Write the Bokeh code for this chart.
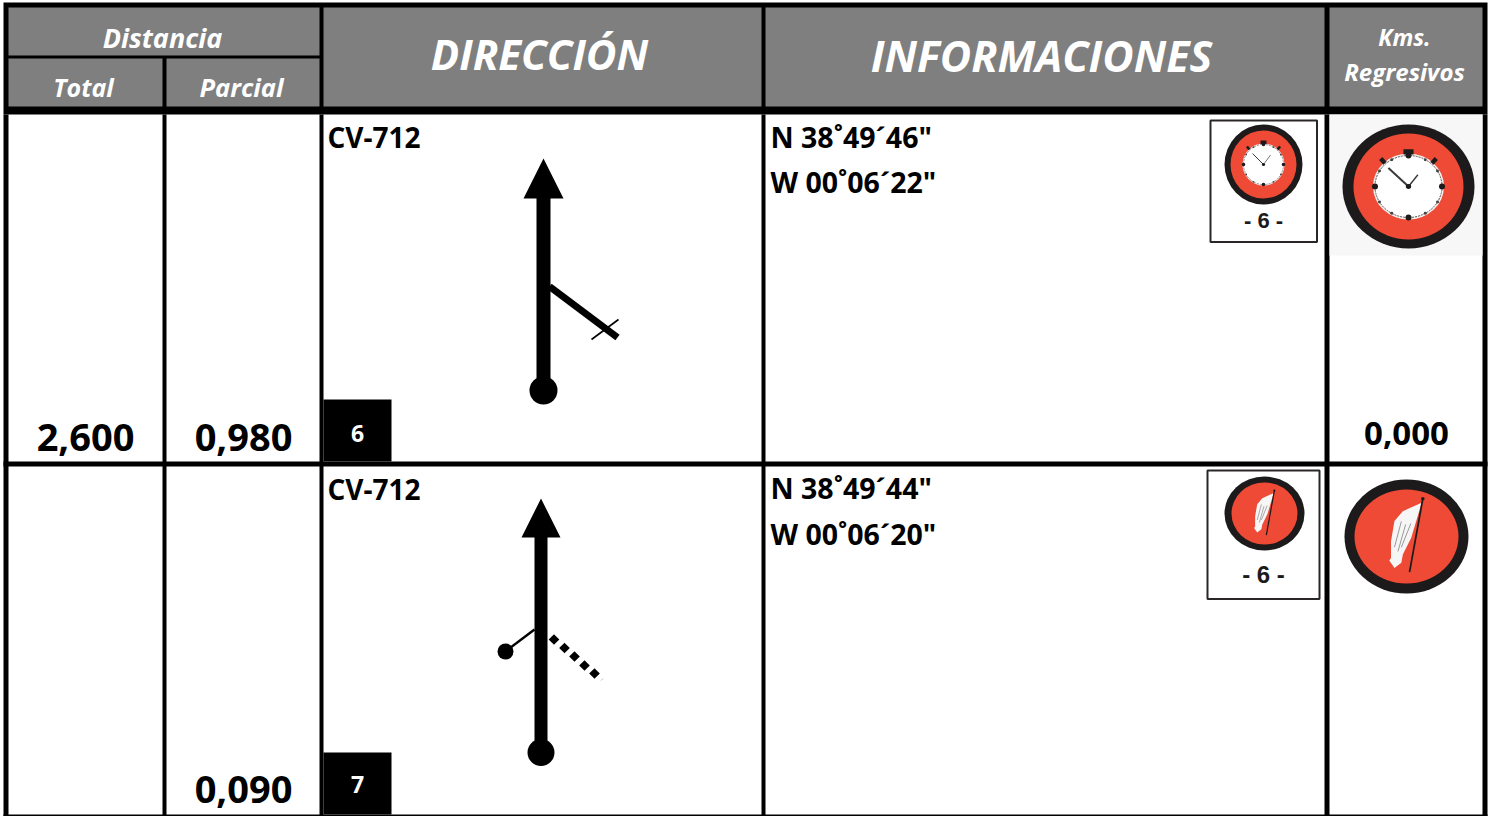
from bokeh.plotting import figure
from bokeh.embed import file_html
from bokeh.resources import INLINE
from bokeh.core.properties import value
import numpy as np

# ---- chart content ----
HEAD_GROUP = "Distancia"
HEAD_TOTAL = "Total"
HEAD_PARTIAL = "Parcial"
HEAD_DIRECTION = "DIRECCIÓN"
HEAD_INFO = "INFORMACIONES"
HEAD_KMS = ["Kms.", "Regresivos"]
TOTALS = ["2,600", ""]
PARTIALS = ["0,980", "0,090"]
ROADS = ["CV-712", "CV-712"]
STEPS = ["6", "7"]
LATITUDES = ['N 38˚49´46"', 'N 38˚49´44"']
LONGITUDES = ['W 00˚06´22"', 'W 00˚06´20"']
REGRESSIVE = ["0,000", ""]
ICON_LABEL = "- 6 -"

FONT = "Open Sans"
BLACK = "#000000"
GREY = "#7f7f7f"
RED = "#ee4a36"
RING = "#1c1a1a"
K = 0.33

p = figure(width=1494, height=816, x_range=(1, 1495), y_range=(817, 1),
           output_backend="svg", toolbar_location=None, min_border=0,
           outline_line_color=None, background_fill_color="white",
           border_fill_color="white")
p.axis.visible = False
p.grid.visible = False


def box(x0, x1, y0, y1, color=BLACK, **kw):
    p.quad(left=[x0], right=[x1], top=[y0], bottom=[y1], fill_color=color, line_color=None, **kw)


def txt(x, y, s, size, color=BLACK, align="center", style="bold", font=FONT):
    p.text([x], [y - K * size], text=[s], text_font=value(font), text_font_size=f"{size}px",
           text_font_style=style, text_color=color, text_align=align,
           text_baseline="alphabetic")


def seg(xs, ys, width, color=BLACK, cap="butt"):
    p.line(xs, ys, line_width=width, line_color=color, line_cap=cap)


def oval(cx, cy, rx, ry, color):
    p.ellipse([cx], [cy], width=[2 * rx], height=[2 * ry], fill_color=color, line_color=None)


# ---- header fills ----
box(4, 1488, 3, 115)
box(9, 320, 8, 56, GREY)
box(9, 163, 59, 107, GREY)
box(167, 320, 59, 107, GREY)
box(324, 762, 8, 107, GREY)
box(766, 1325, 8, 107, GREY)
box(1330, 1483, 8, 107, GREY)

# ---- grid lines of the body ----
for a, b in [(4, 9), (163, 167), (320, 324), (762, 766), (1325, 1330), (1483, 1488)]:
    box(a, b, 115, 817)
box(4, 1488, 462, 467)
box(4, 1488, 815, 817)

# ---- header texts ----
txt(163, 47, HEAD_GROUP, 27, "white", style="bold italic")
txt(84, 96, HEAD_TOTAL, 25, "white", style="bold italic")
txt(242, 96, HEAD_PARTIAL, 25.5, "white", style="bold italic")
txt(540, 68, HEAD_DIRECTION, 42, "white", style="bold italic")
txt(1042, 70, HEAD_INFO, 43, "white", style="bold italic")
txt(1405, 45, HEAD_KMS[0], 23, "white", style="bold italic")
txt(1405, 80, HEAD_KMS[1], 24, "white", style="bold italic")

# ---- body texts ----
for i, base in enumerate([451, 803]):
    txt(86, base, TOTALS[i], 38)
    txt(244, base, PARTIALS[i], 38)
txt(1407, 445, REGRESSIVE[0], 33)

box(324, 392, 400, 462)
box(324, 392, 753, 815)
txt(358, 442, STEPS[0], 23, "white")
txt(358, 793, STEPS[1], 23, "white")

for i, (road_y, lat_y, lon_y) in enumerate([(147, 147, 192), (499, 498, 544)]):
    txt(328, road_y, ROADS[i], 28, align="left")
    txt(771, lat_y, LATITUDES[i], 28.5, align="left")
    txt(771, lon_y, LONGITUDES[i], 28.5, align="left")

# ---- direction diagram, first row ----
box(537, 551, 190, 391)
p.patch([544, 524, 564], [159, 199, 199], fill_color=BLACK, line_color=None)
oval(544, 391, 14, 14, BLACK)
seg([550, 618], [287, 338], 7)
seg([592, 619], [340, 320], 1.6)

# ---- direction diagram, second row ----
box(535, 548, 530, 753)
p.patch([541.5, 522, 561], [499, 538, 538], fill_color=BLACK, line_color=None)
oval(541.5, 753, 13.5, 13.5, BLACK)
seg([535, 506], [630, 652], 2.4)
oval(506, 652, 8, 8, BLACK)
p.scatter([554.5, 565, 575, 585, 595], [640, 648.5, 657, 666, 674], marker="square",
          angle=np.pi / 4, size=7.5, fill_color=BLACK, line_color=None)
seg([601, 604], [681, 679], 1, "#cfcfcf")


def clock(cx, cy, rx, ry, rr_x, rr_y, rw_x, rw_y, hl, hs, lw):
    oval(cx, cy, rx, ry, RING)
    oval(cx, cy, rr_x, rr_y, RED)
    oval(cx, cy, rw_x + lw, rw_y + lw, "#f4f0ee")
    p.ellipse([cx], [cy], width=[2 * rw_x], height=[2 * rw_y], fill_color="white",
              line_color="#55514f", line_width=max(0.6, lw / 2), line_dash="2 1")
    a = np.arange(12) * np.pi / 6
    big = np.arange(12) % 3 == 0
    p.scatter(cx + rw_x * np.sin(a[big]), cy - rw_y * np.cos(a[big]), marker="circle",
              size=rw_x * 0.18, fill_color=RING, line_color=None)
    p.scatter(cx + rw_x * np.sin(a[~big]), cy - rw_y * np.cos(a[~big]), marker="circle",
              size=rw_x * 0.09, fill_color="#444444", line_color=None)
    seg([cx, cx - hl * rw_x], [cy, cy - hl * rw_y], lw, "#3a3a3a")
    seg([cx, cx + hs * rw_x], [cy, cy - hs * 1.35 * rw_y], lw * 0.7, "#3a3a3a")
    oval(cx, cy, rw_x * 0.08, rw_y * 0.08, RING)
    # crown and pushers
    box(cx - rw_x * 0.15, cx + rw_x * 0.15, cy - rw_y * 1.2, cy - rw_y * 1.03, RING)
    seg([cx - rw_x * 0.83, cx - rw_x * 0.7], [cy - rw_y * 0.9, cy - rw_y * 0.75], rw_x * 0.13, RING)
    seg([cx + rw_x * 0.83, cx + rw_x * 0.7], [cy - rw_y * 0.9, cy - rw_y * 0.75], rw_x * 0.13, RING)


def flag(cx, cy, rx, ry, rr_x, rr_y, s):
    oval(cx, cy, rx, ry, RING)
    oval(cx, cy, rr_x, rr_y, RED)
    fx = np.array([0.34, -0.085, -0.28, -0.36, -0.36, -0.40, -0.28, -0.12, -0.085, 0.11, 0.34])
    fy = np.array([-0.78, -0.59, -0.36, 0.11, 0.50, 0.56, 0.73, 0.61, 0.42, 0.03, -0.74])
    p.patch(cx + fx * s, cy + fy * s, fill_color="#f6f6f6", line_color=None)
    w = max(0.7, s / 50)
    seg([cx - 0.28 * s, cx - 0.12 * s], [cy + 0.25 * s, cy - 0.35 * s], w, "#8a8a8a")
    seg([cx - 0.2 * s, cx - 0.02 * s], [cy + 0.35 * s, cy - 0.28 * s], w, "#8a8a8a")
    seg([cx - 0.12 * s, cx + 0.1 * s], [cy + 0.25 * s, cy - 0.3 * s], w, "#8a8a8a")
    seg([cx + 0.38 * s, cx + 0.07 * s], [cy - 0.88 * s, cy + 0.83 * s], max(1.2, s / 25), RING)
    oval(cx + 0.38 * s, cy - 0.88 * s, s * 0.04, s * 0.04, RING)


# ---- first row icons ----
p.quad(left=[1211], right=[1317.5], top=[121], bottom=[242.5], fill_color="white",
       line_color="#2a2626", line_width=2)
clock(1264, 165, 39, 40, 33, 34, 20, 20, 0.55, 0.35, 1)
txt(1264, 228, ICON_LABEL, 22, RING, font="Liberation Sans")

box(1330, 1483, 115, 256, "#f7f7f7")
clock(1409, 187, 66, 62, 55, 53, 33.5, 31, 0.6, 0.28, 2)

# ---- second row icons ----
p.quad(left=[1208], right=[1320], top=[471], bottom=[599.5], fill_color="white",
       line_color="#2a2626", line_width=2)
flag(1265, 514, 40, 37, 33, 31, 26)
txt(1264, 583, ICON_LABEL, 24, RING, font="Liberation Sans")

flag(1407, 537, 62, 57, 52, 47, 43)

open("out.html", "w").write(file_html(p, INLINE))
